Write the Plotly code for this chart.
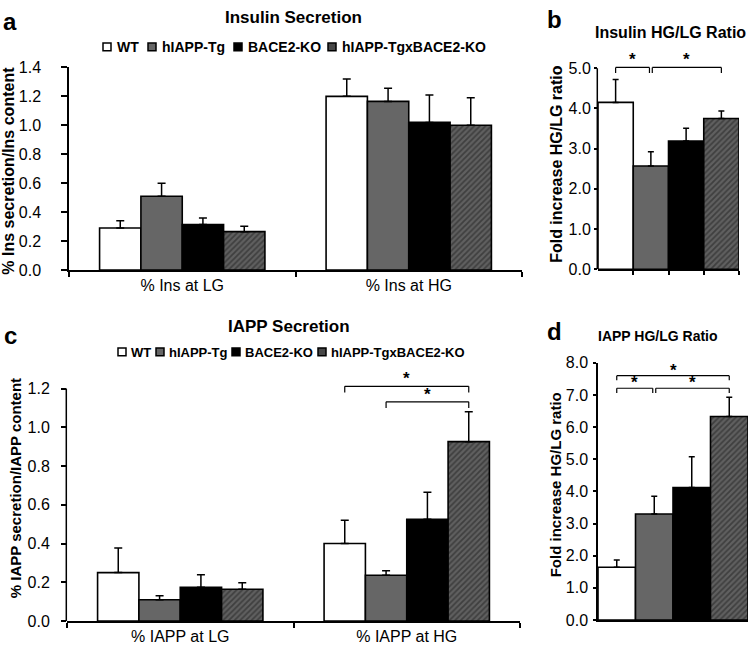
import plotly.graph_objects as go

W, H = 750, 656
FONT = "Liberation Sans, Arial, Helvetica, sans-serif"

# ---------------- data ----------------
groups = ["WT", "hIAPP-Tg", "BACE2-KO", "hIAPP-TgxBACE2-KO"]
ins_categories = ["% Ins at LG", "% Ins at HG"]
iapp_categories = ["% IAPP at LG", "% IAPP at HG"]

ins_lg_mean = [0.29, 0.51, 0.315, 0.265]
ins_lg_err = [0.05, 0.09, 0.045, 0.038]
ins_hg_mean = [1.20, 1.165, 1.02, 1.00]
ins_hg_err = [0.12, 0.09, 0.19, 0.19]

ins_ratio_mean = [4.15, 2.57, 3.19, 3.75]
ins_ratio_err = [0.57, 0.355, 0.32, 0.185]

iapp_lg_mean = [0.25, 0.11, 0.174, 0.164]
iapp_lg_err = [0.127, 0.02, 0.065, 0.034]
iapp_hg_mean = [0.40, 0.236, 0.525, 0.926]
iapp_hg_err = [0.12, 0.023, 0.14, 0.155]

iapp_ratio_mean = [1.64, 3.30, 4.12, 6.33]
iapp_ratio_err = [0.23, 0.55, 0.96, 0.60]

ins_ratio_sig = [(0, 1), (1, 3)]
iapp_hg_sig = [(0, 3), (1, 3)]
iapp_ratio_sig = [(0, 3), (0, 1), (1, 3)]

# ---------------- styles ----------------
fill_colors = ["#ffffff", "#666666", "#000000", "#5a5a5a"]
legend_fill = ["#ffffff", "#666666", "#000000", "#474747"]
pattern_shapes = ["", "", "", "/"]
PAT = dict(bgcolor="#606060", fgcolor="#1e1e1e", size=4, solidity=0.45)
BARGAP = 0.27
TICK_SIZE = 16


def fx(p):
    return p / W


def fy(p):
    return 1 - p / H


def marker(i):
    return dict(color=fill_colors[i], line=dict(color="black", width=1.6),
                pattern=dict(shape=pattern_shapes[i], **PAT))


fig = go.Figure()

# Panel a & c: grouped bars
for i, g in enumerate(groups):
    fig.add_trace(go.Bar(
        x=ins_categories, y=[ins_lg_mean[i], ins_hg_mean[i]], name=g, showlegend=False,
        marker=marker(i),
        error_y=dict(type="data", symmetric=False, array=[ins_lg_err[i], ins_hg_err[i]],
                     arrayminus=[0, 0], color="black", thickness=1.5, width=4),
        xaxis="x", yaxis="y"))
for i, g in enumerate(groups):
    fig.add_trace(go.Bar(
        x=iapp_categories, y=[iapp_lg_mean[i], iapp_hg_mean[i]], name=g, showlegend=False,
        marker=marker(i),
        error_y=dict(type="data", symmetric=False, array=[iapp_lg_err[i], iapp_hg_err[i]],
                     arrayminus=[0, 0], color="black", thickness=1.5, width=4),
        xaxis="x3", yaxis="y3"))

# Panel b & d: ratio bars (one trace per genotype, bars touching)
for mean, err, xa, ya in [(ins_ratio_mean, ins_ratio_err, "x2", "y2"),
                          (iapp_ratio_mean, iapp_ratio_err, "x4", "y4")]:
    for i, g in enumerate(groups):
        fig.add_trace(go.Bar(
            x=[i], y=[mean[i]], width=1, offset=-0.5, name=g, showlegend=False,
            marker=marker(i),
            error_y=dict(type="data", symmetric=False, array=[err[i]], arrayminus=[0],
                         color="black", thickness=1.5, width=3),
            xaxis=xa, yaxis=ya))

AX = dict(showgrid=False, zeroline=False, linecolor="black", linewidth=1.5,
          tickcolor="black", tickwidth=1.5,
          tickfont=dict(family=FONT, size=TICK_SIZE, color="black"))

a_y0, a_unit = 269, 148.6
b_y0, b_unit = 268.3, 41.3
c_y0, c_unit = 629.3, 198.8
d_y0, d_unit = 628.3, 33.0

fig.update_layout(
    width=W, height=H, autosize=False, margin=dict(l=0, r=0, t=0, b=0, pad=0),
    paper_bgcolor="white", plot_bgcolor="white",
    barmode="group", bargap=BARGAP, bargroupgap=0, showlegend=False,
    font=dict(family=FONT, color="black"),
    xaxis=dict(AX, domain=[fx(69), fx(522)], type="category", showline=True,
               ticks="outside", tickson="boundaries", ticklen=5, anchor="y"),
    yaxis=dict(AX, domain=[fy(a_y0), fy(a_y0 - 1.4 * a_unit)], range=[0, 1.4],
               tick0=0, dtick=0.2, tickformat=".1f", showline=True, ticks="outside",
               ticklen=6, ticklabelstandoff=17, anchor="x"),
    xaxis2=dict(AX, domain=[fx(598), fx(739)], range=[-0.5, 3.5], showline=True,
                ticks="outside", tickvals=[0.5, 1.5, 2.5, 3.5], ticklen=4,
                showticklabels=False, anchor="y2"),
    yaxis2=dict(AX, domain=[fy(b_y0), fy(b_y0 - 5.5 * b_unit)], range=[0, 5.5],
                tickvals=[0, 1, 2, 3, 4, 5], tickformat=".1f", showline=False,
                ticks="outside", ticklen=3, ticklabelstandoff=0, anchor="x2"),
    xaxis3=dict(AX, domain=[fx(67), fx(520)], type="category", showline=True,
                ticks="outside", tickson="boundaries", ticklen=5, anchor="y3"),
    yaxis3=dict(AX, domain=[fy(c_y0), fy(c_y0 - 1.3 * c_unit)], range=[0, 1.3],
                tickvals=[0, 0.2, 0.4, 0.6, 0.8, 1.0, 1.2], tickformat=".1f",
                showline=False, ticks="outside", ticklen=5, ticklabelstandoff=8,
                anchor="x3"),
    xaxis4=dict(AX, domain=[fx(598), fx(748)], range=[-0.5, 3.5], showline=True,
                ticks="", showticklabels=False, anchor="y4"),
    yaxis4=dict(AX, domain=[fy(d_y0), fy(d_y0 - 8 * d_unit)], range=[0, 8],
                tick0=0, dtick=1, tickformat=".1f", showline=True, ticks="outside",
                ticklen=3, ticklabelstandoff=2, anchor="x4"),
)

shapes = []
annotations = []

# y axis lines for panels that keep headroom above the axis for significance marks
shapes.append(dict(type="line", xref="paper", yref="y2", x0=fx(597.3), x1=fx(597.3),
                   y0=0, y1=5, line=dict(color="black", width=1.5)))
shapes.append(dict(type="line", xref="paper", yref="y3", x0=fx(66.3), x1=fx(66.3),
                   y0=0, y1=1.2, line=dict(color="black", width=1.5)))


def bracket(xref, yref, x0, x1, ytop, yleg, star_size=17, yshift=-4):
    for (a, b, c, d) in [(x0, yleg, x0, ytop), (x0, ytop, x1, ytop), (x1, ytop, x1, yleg)]:
        shapes.append(dict(type="line", xref=xref, yref=yref, x0=a, y0=b, x1=c, y1=d,
                           line=dict(color="black", width=1.2)))
    annotations.append(dict(text="<b>*</b>", xref=xref, yref=yref, x=(x0 + x1) / 2, y=ytop,
                            xanchor="center", yanchor="bottom", showarrow=False, yshift=yshift,
                            font=dict(family=FONT, size=star_size, color="black")))


gap = 0.04
# panel b
(p0, p1), (q0, q1) = ins_ratio_sig
bracket("x2", "y2", p0, p1 - gap, 5.02, 4.88)
bracket("x2", "y2", q0 + gap, q1, 5.02, 4.88)

# panel c (HG group, category index 1)
bw = (1 - BARGAP) / len(groups)


def cpos(cat, i):
    return cat + (i - 1.5) * bw


(r0, r1), (s0, s1) = iapp_hg_sig
bracket("x3", "y3", cpos(1, r0), cpos(1, r1), 1.212, 1.18)
bracket("x3", "y3", cpos(1, s0), cpos(1, s1), 1.132, 1.10)

# panel d
(t0, t1), (u0, u1), (v0, v1) = iapp_ratio_sig
bracket("x4", "y4", t0, t1, 7.6, 7.46, yshift=-6)
bracket("x4", "y4", u0, u1 - gap, 7.21, 7.06, yshift=-6)
bracket("x4", "y4", v0 + gap, v1, 7.21, 7.06, yshift=-6)


def text(t, x, y, size, angle=0, bold=True, xanchor="center"):
    annotations.append(dict(text=f"<b>{t}</b>" if bold else t, xref="paper", yref="paper",
                            x=fx(x), y=fy(y), xanchor=xanchor, yanchor="middle",
                            showarrow=False, textangle=angle,
                            font=dict(family=FONT, size=size, color="black")))


# legends (key squares + bold labels)
def legend_row(sq_x, txt_x, y, size, sq=8):
    for i, g in enumerate(groups):
        shapes.append(dict(type="rect", xref="paper", yref="paper",
                           x0=fx(sq_x[i]), x1=fx(sq_x[i] + sq),
                           y0=fy(y + sq / 2), y1=fy(y - sq / 2),
                           fillcolor=legend_fill[i], line=dict(color="black", width=1.5)))
        text(g, txt_x[i], y + 0.5, size, xanchor="left")


legend_row([103, 148, 234, 328], [115, 160, 246, 340], 40, 14)
legend_row([118, 156, 232, 318], [129, 167, 243, 329], 353, 13)

# panel letters
text("a", 10, 14, 24)
text("b", 554, 12, 24)
text("c", 10, 336, 24)
text("d", 554, 332, 24)
# panel titles
text("Insulin Secretion", 293, 10, 17)
text("Insulin HG/LG Ratio", 748, 25, 16, xanchor="right")
text("IAPP Secretion", 289, 327, 17)
text("IAPP HG/LG Ratio", 658, 337, 14)
# y axis titles
text("% Ins secretion/Ins content", 9, 167, 16, angle=-90)
text("Fold increase HG/LG ratio", 557, 160, 16, angle=-90)
text("% IAPP secretion/IAPP content", 15, 493, 15, angle=-90)
text("Fold increase HG/LG ratio", 555, 490, 15, angle=-90)

fig.update_layout(shapes=shapes, annotations=annotations)

fig.write_html(
    "out.html",
    config={"responsive": False, "displayModeBar": False},
    post_script="document.body.style.margin='0';document.body.style.overflow='hidden';",
)
